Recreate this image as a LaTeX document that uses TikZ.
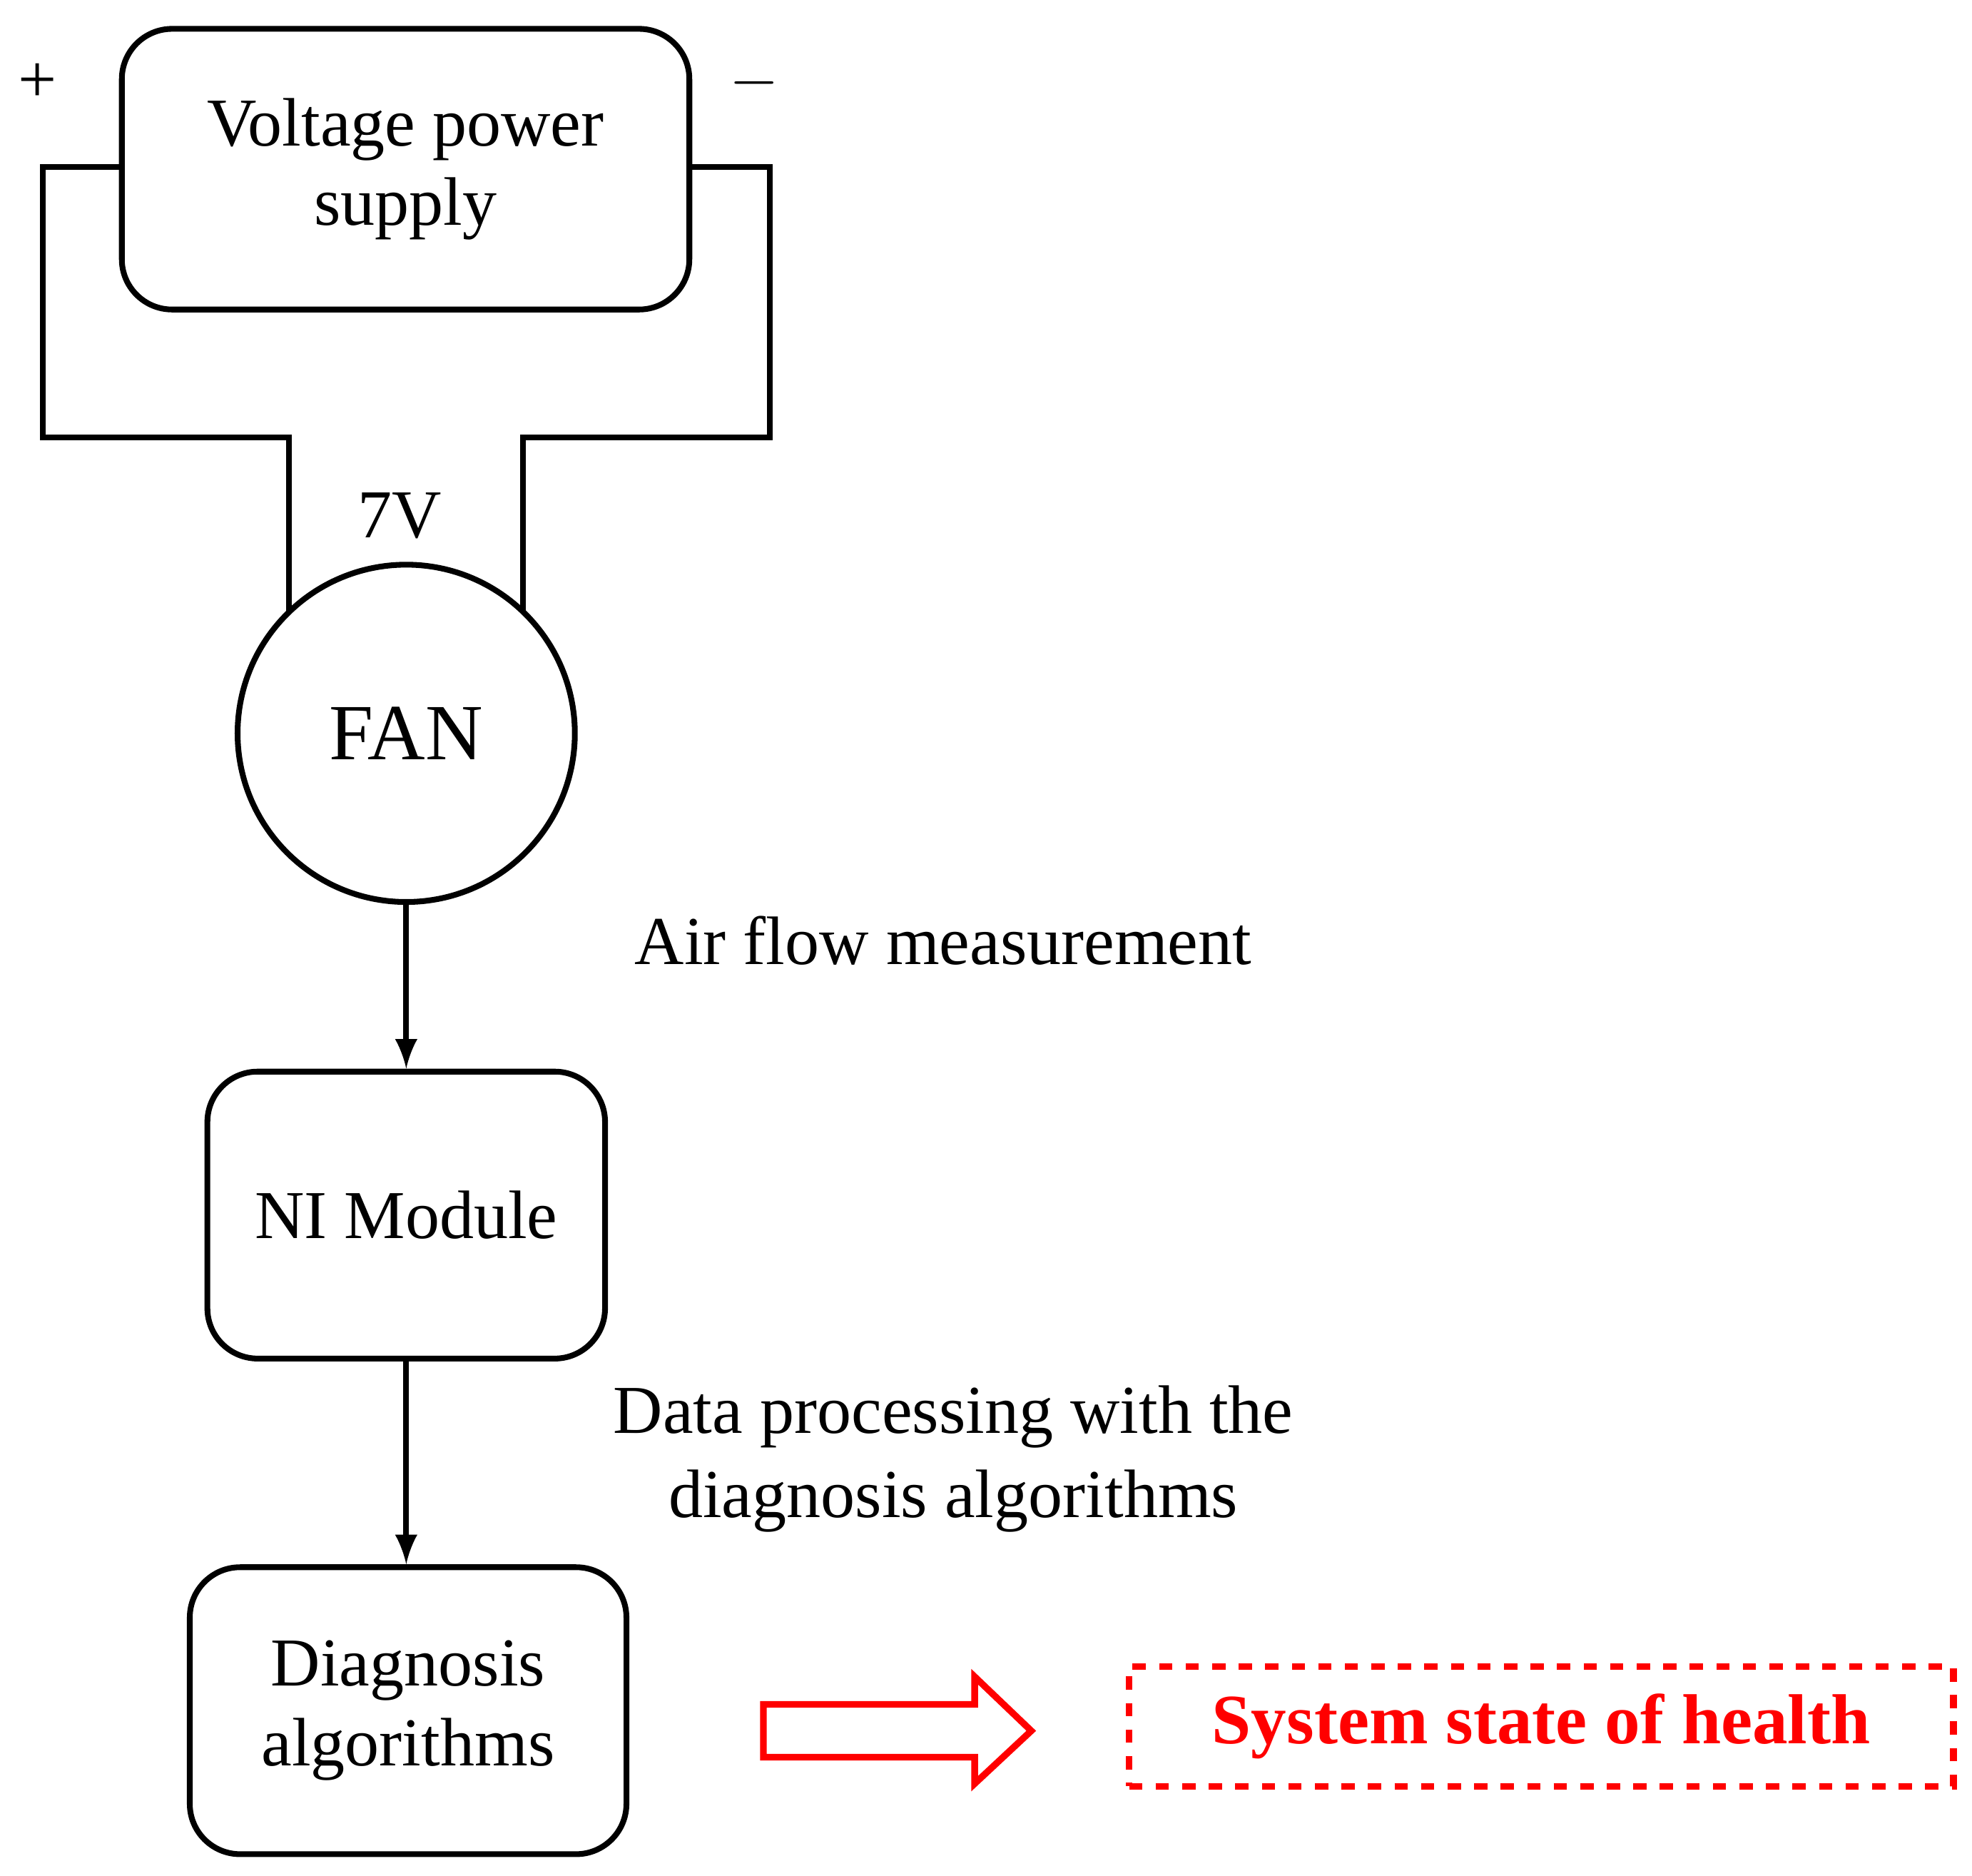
\documentclass[tikz,border=0pt]{standalone}
\usepackage{fontspec}
\setmainfont{Liberation Serif}
\begin{document}
\begin{tikzpicture}[x=0.01cm,y=-0.01cm,line width=1.3pt,
  box/.style={draw,rounded corners=0.4cm,align=center,font=\fontsize{15.5}{18}\selectfont,inner sep=0pt},
  lab/.style={align=center,font=\fontsize{15.5}{19}\selectfont},
  arr/.style={-latex}]
\useasboundingbox (0,0) rectangle (1568,1491);
\node[box,minimum width=4.51cm,minimum height=2.23cm] (vps) at (322.5,134.5) {Voltage power\\supply};
\node[lab] (plus) at (30,66) {+};
\node[lab] (minus) at (600,66) {$-$};
\node[draw,circle,minimum size=2.68cm,font=\fontsize{18}{22}\selectfont] (fan) at (323,583) {FAN};
\node[lab] (v7) at (318,410) {7V};
\coordinate (l1) at (230,486);
\coordinate (r1) at (416,486);
\draw (vps.west |- 0,133) -- (34,133) -- (34,348) -- (230,348) -- (l1);
\draw (vps.east |- 0,133) -- (612,133) -- (612,348) -- (416,348) -- (r1);
\node[box,minimum width=3.16cm,minimum height=2.28cm] (ni) at (323,966) {NI Module};
\node[box,minimum width=3.47cm,minimum height=2.28cm] (diag) at (324.5,1360) {Diagnosis\\algorithms};
\draw[arr] (fan.south) -- (ni.north);
\draw[arr] (ni.south) -- (diag.north -| ni.south);
\node[lab] (air) at (750,748) {Air flow measurement};
\node[lab] (dp) at (758,1160) {Data processing with the\\diagnosis algorithms};
\draw[red,line width=1.5pt] (607,1355) -- (775,1355) -- (775,1333) -- (820,1376) -- (775,1418) -- (775,1397) -- (607,1397) -- cycle;
\node[draw=red,dashed,line width=1.5pt,minimum width=6.55cm,minimum height=0.95cm,text=red,font=\bfseries\fontsize{16}{20}\selectfont] (soh) at (1225.5,1372.5) {System state of health};
\end{tikzpicture}
\end{document}
